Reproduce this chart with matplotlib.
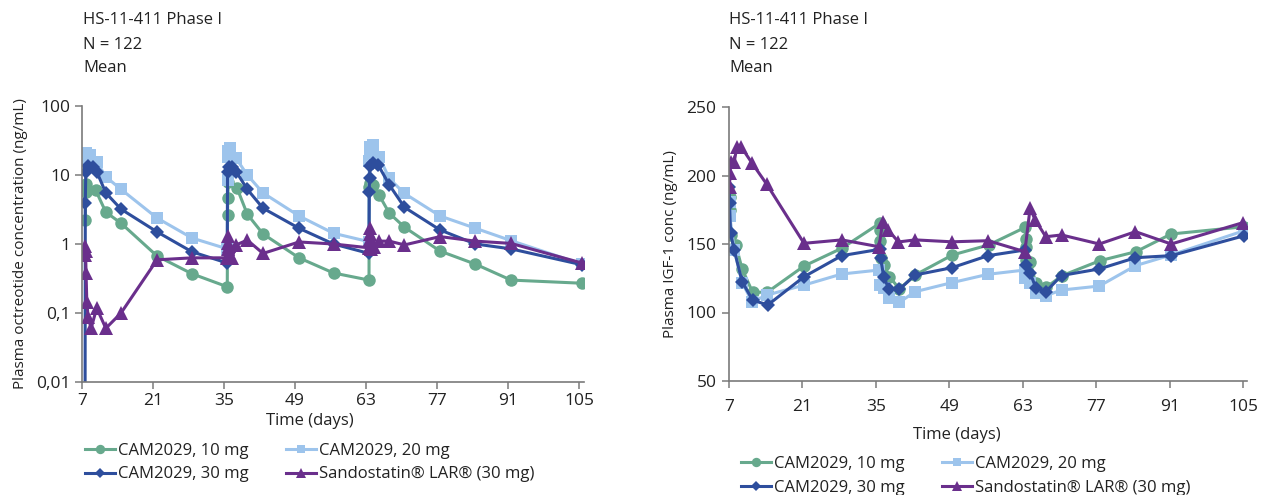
import matplotlib
matplotlib.use("Agg")
import matplotlib.pyplot as plt
from matplotlib.lines import Line2D

plt.rcParams['font.family'] = ['Open Sans', 'DejaVu Sans']

# ---- plasma octreotide (left panel) ----
t10 = [7.65, 7.7, 7.8, 9.7, 11.7, 14.7, 21.8, 28.7, 35.65, 35.7, 35.75, 35.85, 37.6, 39.6,
       42.7, 49.8, 56.6, 63.6, 63.65, 63.75, 64.4, 65.6, 67.6, 70.6, 77.6, 84.6, 91.6, 105.6]
c10 = [2.2, 5.7, 7.4, 6.0, 2.9, 2.0, 0.67, 0.37, 0.24, 2.6, 4.6, 8.0, 6.4, 2.7,
       1.4, 0.63, 0.38, 0.30, 6.7, 7.6, 7.2, 5.1, 2.8, 1.75, 0.79, 0.51, 0.30, 0.27]

t20 = [7.65, 7.7, 7.8, 8.6, 9.9, 11.7, 14.7, 21.8, 28.7, 35.65, 35.7, 35.75, 35.85, 36.2, 37.4,
       39.6, 42.7, 49.8, 56.6, 63.6, 63.65, 63.7, 63.8, 64.3, 65.6, 67.6, 70.6, 77.6, 84.6, 91.6, 105.6]
c20 = [14, 17.6, 20.6, 19.5, 15.6, 9.4, 6.2, 2.38, 1.22, 0.85, 8.5, 18, 22, 25, 17.4,
       10, 5.5, 2.55, 1.43, 1.08, 16, 20.6, 25.7, 27, 18.4, 8.9, 5.4, 2.55, 1.69, 1.12, 0.51]

t30 = [7.6, 7.65, 7.75, 8.2, 9.2, 9.9, 11.7, 14.7, 21.8, 28.7, 35.65, 35.7, 36.0, 36.6, 37.4,
       39.6, 42.7, 49.8, 56.6, 63.6, 63.65, 63.7, 63.8, 64.3, 65.4, 67.6, 70.6, 77.6, 84.6, 91.6, 105.6]
c30 = [0.001, 3.96, 11.2, 13.5, 13.2, 11.2, 5.5, 3.2, 1.5, 0.77, 0.53, 11.2, 13.2, 13.2, 11.2,
       6.2, 3.3, 1.69, 1.0, 0.73, 5.7, 9.0, 13.5, 14.9, 14.0, 7.2, 3.4, 1.6, 1.0, 0.85, 0.50]

tlar = [7.62, 7.65, 7.7, 7.8, 7.95, 8.2, 8.8, 9.9, 11.7, 14.7, 21.8, 28.7,
        35.65, 35.7, 35.75, 35.8, 35.9, 36.0, 36.6, 37.4, 39.6, 42.7, 49.8, 56.6,
        63.6, 63.65, 63.7, 63.8, 63.9, 64.0, 64.5, 65.6, 67.6, 70.6, 77.6, 84.6, 91.6, 105.6]
clar = [0.70, 0.92, 0.80, 0.38, 0.145, 0.087, 0.06, 0.118, 0.06, 0.10, 0.59, 0.63,
        0.63, 0.85, 1.05, 1.3, 0.95, 0.75, 0.63, 0.97, 1.14, 0.73, 1.07, 1.0,
        0.88, 1.1, 1.4, 1.7, 1.2, 0.85, 0.9, 1.1, 1.1, 0.97, 1.28, 1.1, 1.02, 0.53]

# ---- plasma IGF-1 (right panel) ----
ti10 = [7.1, 7.15, 7.3, 8.3, 9.5, 11.5, 14.3, 21.3, 28.5, 35.7, 35.75, 35.8, 35.9, 36.6, 37.6,
        39.5, 42.5, 49.6, 56.5, 63.5, 63.55, 63.6, 63.7, 64.4, 65.5, 67.5, 70.5, 77.7, 84.6, 91.3, 105.2]
i10 = [184.6, 174.8, 156.6, 149.3, 131.8, 114.8, 114.8, 133.9, 146.9, 165, 160, 152, 140, 134.7, 126,
       117.2, 127.4, 142, 149.3, 162.2, 154, 148, 138.3, 137, 121.3, 118.4, 126.9, 137.8, 144.4, 157.3, 162.6]

ti20 = [7.1, 7.15, 8.0, 9.5, 11.4, 14.3, 21.3, 28.5, 35.6, 35.7, 36.6, 37.6, 39.5, 42.5,
        49.5, 56.4, 63.4, 63.5, 64.4, 65.5, 67.4, 70.4, 77.6, 84.5, 91.3, 105.2]
i20 = [180.9, 170.4, 145.6, 121.8, 107.9, 112.8, 120, 128.1, 131, 120.1, 118.1, 110.4, 107.5, 115.2,
       121.8, 127.9, 131, 125, 121.8, 114, 112.3, 116.4, 119.3, 134.2, 142, 159.7]

ti30 = [7.05, 7.1, 7.3, 8.0, 9.5, 11.5, 14.4, 21.3, 28.5, 35.7, 35.9, 36.5, 37.5, 39.5, 42.5,
        49.5, 56.4, 63.4, 63.7, 64.4, 65.5, 67.4, 70.4, 77.6, 84.5, 91.3, 105.2]
i30 = [191.8, 180, 157.8, 145.6, 122.5, 109, 105.5, 126.1, 141.5, 146.1, 140, 126, 117, 117, 127.4,
       132.7, 141.5, 145.6, 135, 129, 118, 115.2, 127, 131.8, 140, 141.5, 156]

tilar = [7.1, 7.2, 7.3, 8.0, 8.5, 9.3, 11.4, 14.2, 21.3, 28.5, 35.6, 36.3, 37.4, 39.3,
         42.5, 49.5, 56.4, 63.4, 64.4, 65.4, 67.4, 70.4, 77.6, 84.5, 91.3, 105.0]
ilar = [191.8, 201.6, 210, 210, 221, 221, 209, 193.6, 150.5, 153, 148, 166, 160, 151.5,
        153, 151.6, 152.4, 144.4, 176, 167.5, 155.3, 156.6, 150, 159, 150, 165.6]

labels = ["CAM2029, 10 mg", "CAM2029, 20 mg", "CAM2029, 30 mg", "Sandostatin® LAR® (30 mg)"]
colors = ["#67a98d", "#9dc4ec", "#2e4e9d", "#6a2f8c"]
markers = ["o", "s", "D", "^"]
msizes = [9, 8, 7, 9.5]
xticks = [7, 21, 35, 49, 63, 77, 91, 105]

W, H = 1262, 495
fig = plt.figure(figsize=(W / 100, H / 100), dpi=100)
axL = fig.add_axes([82 / W, 113 / H, 502 / W, 276 / H])
axR = fig.add_axes([729 / W, 114 / H, 518 / W, 274 / H])

pk = [(t10, c10), (t20, c20), (t30, c30), (tlar, clar)]
igf = [(ti10, i10), (ti20, i20), (ti30, i30), (tilar, ilar)]

for ax, series in [(axL, pk), (axR, igf)]:
    for (x, y), col, m, ms in zip(series, colors, markers, msizes):
        ax.plot(x, y, color=col, marker=m, markersize=ms, markeredgewidth=0, linewidth=2.2)
    for s in ["top", "right"]:
        ax.spines[s].set_visible(False)
    for s in ["left", "bottom"]:
        ax.spines[s].set_color("#7a7a7a")
        ax.spines[s].set_linewidth(1.2)
    ax.set_xticks(xticks)
    ax.tick_params(colors="#7a7a7a", labelcolor="#222222", labelsize=12.5, length=5, width=1.1)

axL.set_yscale("log")
axL.set_xlim(7, 106)
axL.set_ylim(0.01, 100)
axL.set_yticks([0.01, 0.1, 1, 10, 100])
axL.set_yticklabels(["0,01", "0,1", "1", "10", "100"])
axL.minorticks_off()
axL.tick_params(axis="x", pad=3)
axL.tick_params(axis="y", pad=3)
axL.set_ylabel("Plasma octreotide concentration (ng/mL)", fontsize=11, color="#222222", labelpad=6)

axR.set_xlim(7, 105.76)
axR.set_ylim(50, 250)
axR.set_yticks([50, 100, 150, 200, 250])
axR.tick_params(axis="x", pad=8)
axR.tick_params(axis="y", pad=4)
axR.set_ylabel("Plasma IGF-1 conc (ng/mL)", fontsize=11, color="#222222", labelpad=6)

fig.text(310 / W, 1 - 421 / H, "Time (days)", ha="center", va="center", fontsize=12, color="#222222")
fig.text(957 / W, 1 - 435 / H, "Time (days)", ha="center", va="center", fontsize=12, color="#222222")

for x0 in [83, 729]:
    for yy, txt in [(20, "HS-11-411 Phase I"), (45, "N = 122"), (68, "Mean")]:
        fig.text(x0 / W, 1 - yy / H, txt, ha="left", va="center", fontsize=12, color="#222222")

handles = [Line2D([], [], color=c, marker=m, markersize=ms * 0.75, markeredgewidth=0, linewidth=2.2)
           for c, m, ms in zip(colors, markers, msizes)]
order = [0, 2, 1, 3]
for x0, y0 in [(85, 443), (741, 456)]:
    fig.legend([handles[i] for i in order], [labels[i] for i in order], ncol=2,
               loc="upper left", bbox_to_anchor=(x0 / W, 1 - y0 / H), frameon=False,
               fontsize=12, handlelength=1.8, handletextpad=0.2, columnspacing=2.2,
               labelspacing=0.45, borderpad=0, borderaxespad=0, labelcolor="#222222")

fig.savefig("out.png", dpi=100)
